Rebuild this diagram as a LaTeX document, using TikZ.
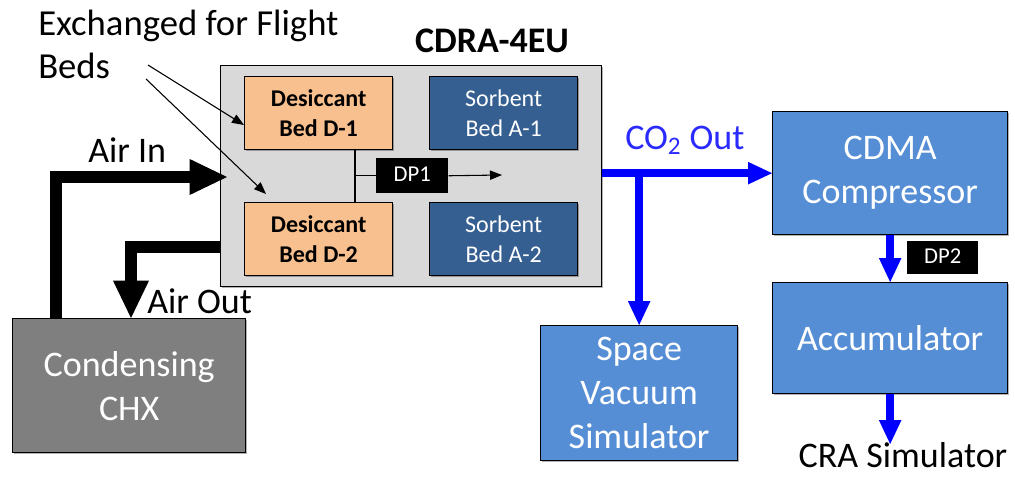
\documentclass[tikz,border=0pt]{standalone}
\usepackage{fontspec}
\setmainfont{Carlito}
\usetikzlibrary{arrows.meta,shadows}
\definecolor{cdragray}{HTML}{D9D9D9}
\definecolor{bedorange}{HTML}{F8C08E}
\definecolor{beddark}{HTML}{365F91}
\definecolor{boxblue}{HTML}{558ED5}
\definecolor{chxgray}{HTML}{7F7F7F}
\definecolor{flowblue}{HTML}{0000FF}
\definecolor{textblue}{HTML}{2A2AFF}
\begin{document}
\begin{tikzpicture}[x=0.75pt,y=-0.75pt,
  rect/.style 2 args={minimum width=#1*0.75pt, minimum height=#2*0.75pt, inner sep=0pt, anchor=north west},
  shad/.style={drop shadow={shadow xshift=1.2pt, shadow yshift=-1.2pt, opacity=0.3, fill=black}},
  outl/.style={draw=black, line width=1pt},
  big/.style={font=\fontsize{27}{33}\selectfont},
  small/.style={font=\fontsize{18}{22.5}\selectfont},
  dp/.style={fill=black, text=white, inner sep=0pt, anchor=north west, font=\fontsize{17}{20}\selectfont},
  thickarrow/.style={line width=9pt, line join=miter, -{Triangle[length=28pt, width=27pt, line width=0pt]}},
  bluearrow/.style={draw=flowblue, line width=6pt, line join=miter, -{Triangle[length=18pt, width=17pt, line width=0pt]}},
  thinarrow/.style={line width=0.8pt, -{Triangle[length=9pt, width=7pt]}}
]
\useasboundingbox (0,0) rectangle (1015,478);

% CDRA box and beds
\node[rect={381}{221}, outl, fill=cdragray, shad] (cdra) at (220,65) {};
\node[rect={148}{73}, outl, fill=bedorange, shad, small, align=center] (d1) at (244,76) {\bfseries Desiccant\\\bfseries Bed D-1};
\node[rect={148}{73}, outl, fill=bedorange, shad, small, align=center] (d2) at (244,202) {\bfseries Desiccant\\\bfseries Bed D-2};
\node[rect={148}{73}, outl, fill=beddark, shad, small, text=white, align=center] (a1) at (429,76) {Sorbent\\Bed A-1};
\node[rect={148}{73}, outl, fill=beddark, shad, small, text=white, align=center] (a2) at (429,202) {Sorbent\\Bed A-2};
\node[rect={72}{35}, dp] (dp1) at (376,158) {\vphantom{Dg}DP1};
\node[big, font=\fontsize{27}{33}\selectfont\bfseries, anchor=base] (title) at (492,53) {CDRA-4EU};

\draw[line width=1pt] (355,0 |- d1.south) -- (355,0 |- d2.north);
\draw[line width=1pt] (355,0 |- dp1.west) -- (dp1.west);
\coordinate (dp1end) at (502,175);
\draw[thinarrow] (dp1.east) -- (dp1end);

% Condensing CHX
\node[rect={233}{134}, outl, fill=chxgray, shad, big, text=white, align=center] (chx) at (12,318) {Condensing\\CHX};

% Labels
\node[big, anchor=north west, inner sep=0pt, align=left, font=\fontsize{27.5}{32}\selectfont] (exch) at (38,10) {Exchanged for Flight\\Beds};
\coordinate (e1) at (148,65);
\coordinate (e2) at (146,79);
\coordinate (e2end) at (266,194);
\draw[thinarrow] (e1) -- (d1.west |- 0,125);
\draw[thinarrow] (e2) -- (e2end);

% Air In / Air Out
\coordinate (airin) at (227,177);
\draw[thickarrow] (56,0 |- chx.north) -- (56,177) -- (airin);
\node[big, anchor=base west, inner sep=0pt] (airinlbl) at (88,162) {Air In};
\draw[thickarrow, line width=8.5pt] (cdra.west |- 0,247) -- (131,247) -- (131,0 |- chx.north);
\node[big, anchor=base west, inner sep=0pt] (airoutlbl) at (147,313) {Air Out};

% Right side
\node[rect={235}{123}, outl, fill=boxblue, shad, big, text=white, align=center] (cdma) at (772,111) {CDMA\\Compressor};
\node[rect={235}{111}, outl, fill=boxblue, shad, big, text=white, align=center] (acc) at (772,282) {Accumulator};
\node[rect={197}{135}, outl, fill=boxblue, shad, big, text=white, align=center] (svs) at (540,325) {Space\\Vacuum\\Simulator};
\node[rect={71}{33}, dp] (dp2) at (907,241) {\vphantom{Dg}DP2};

\draw[bluearrow] (cdra.east |- cdma.west) -- (cdma.west);
\draw[bluearrow] (svs.north |- cdma.west) -- (svs.north);
\node[big, text=textblue, anchor=base west, inner sep=0pt] (co2lbl) at (625,150) {CO\textsubscript{2} Out};
\draw[bluearrow] (cdma.south) -- (acc.north);
\node[big, anchor=base, inner sep=0pt] (cra) at (903,467) {CRA Simulator};
\draw[bluearrow] (acc.south) -- (acc.south |- 0,444);
\end{tikzpicture}
\end{document}
